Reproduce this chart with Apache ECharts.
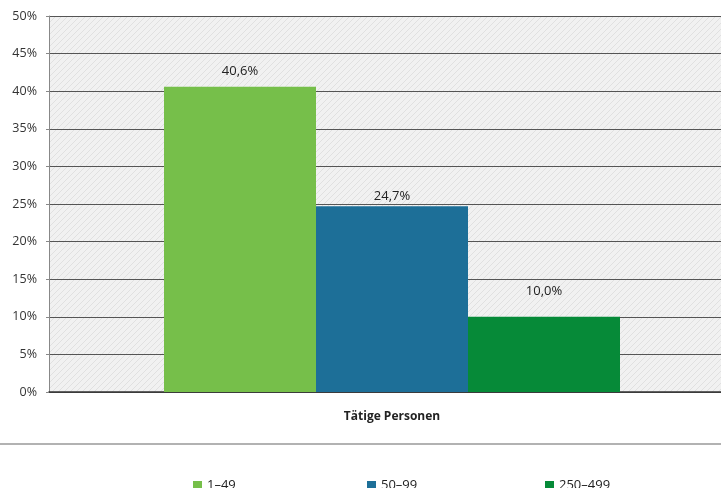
<!DOCTYPE html>
<html><head><meta charset="utf-8">
<script src="https://cdn.jsdelivr.net/npm/echarts@6/dist/echarts.min.js"></script>
<style>html,body{margin:0;padding:0;background:#fff}#c{width:721px;height:488px}</style>
</head><body><div id="c"></div>
<script>
const categories = ['Tätige Personen'];
const seriesNames = ['1–49', '50–99', '250–499'];
const values1 = [40.6];
const values2 = [24.7];
const values3 = [10.0];
const yTicks = [0, 5, 10, 15, 20, 25, 30, 35, 40, 45, 50];

const colors = ['#76bf4a', '#1d6f98', '#068a38'];

// hatch pattern for plot background
const pc = document.createElement('canvas');
pc.width = 6; pc.height = 6;
const px = pc.getContext('2d');
px.fillStyle = '#f1f1f1'; px.fillRect(0, 0, 6, 6);
px.strokeStyle = '#e0e0e0'; px.lineWidth = 1;
px.beginPath(); px.moveTo(0, 6); px.lineTo(6, 0); px.moveTo(-3, 3); px.lineTo(3, -3); px.moveTo(3, 9); px.lineTo(9, 3); px.stroke();

const fmt = v => v.toFixed(1).replace('.', ',') + '%';
const font = '"Open Sans", "Noto Sans", sans-serif';
const dists = [9, 3, 19];
const data = [values1, values2, values3];

const chart = echarts.init(document.getElementById('c'), null, {renderer: 'canvas'});
chart.setOption({
  animation: false,
  textStyle: {fontFamily: font},
  grid: {left: 49, top: 16, width: 686, height: 376, show: true, borderWidth: 0,
         outerBoundsMode: 'none', containLabel: false,
         backgroundColor: {image: pc, repeat: 'repeat'}},
  xAxis: {type: 'category', data: categories,
    axisLine: {lineStyle: {color: '#333', width: 1.5}},
    axisTick: {show: false},
    axisLabel: {fontWeight: 'bold', fontSize: 12, color: '#222', margin: 19, fontFamily: font}},
  yAxis: {type: 'value', min: yTicks[0], max: yTicks[yTicks.length - 1], interval: 5,
    axisLine: {show: true, lineStyle: {color: '#888'}},
    axisTick: {show: true, length: 3, lineStyle: {color: '#888'}},
    axisLabel: {formatter: v => v + '%', fontSize: 12.5, color: '#333', margin: 12, fontFamily: font},
    splitLine: {lineStyle: {color: '#555', width: 1.2}}},
  legend: [0, 1, 2].map(i => ({
    data: [seriesNames[i]], left: [193, 367, 545][i], top: 479, padding: 0,
    itemWidth: 9, itemHeight: 9, icon: 'rect', itemGap: 5,
    textStyle: {fontSize: 13, color: '#222', fontFamily: font}
  })),
  graphic: [{type: 'line', shape: {x1: 0, y1: 444, x2: 721, y2: 444},
    style: {stroke: '#999', lineWidth: 1.5}}],
  series: seriesNames.map((n, i) => ({
    name: n, type: 'bar', data: data[i], barWidth: 152, barGap: '0%',
    itemStyle: {color: colors[i]},
    label: {show: true, position: 'top', distance: dists[i], formatter: p => fmt(p.value),
      fontSize: 13, color: '#222', fontFamily: font}
  }))
});
</script></body></html>
